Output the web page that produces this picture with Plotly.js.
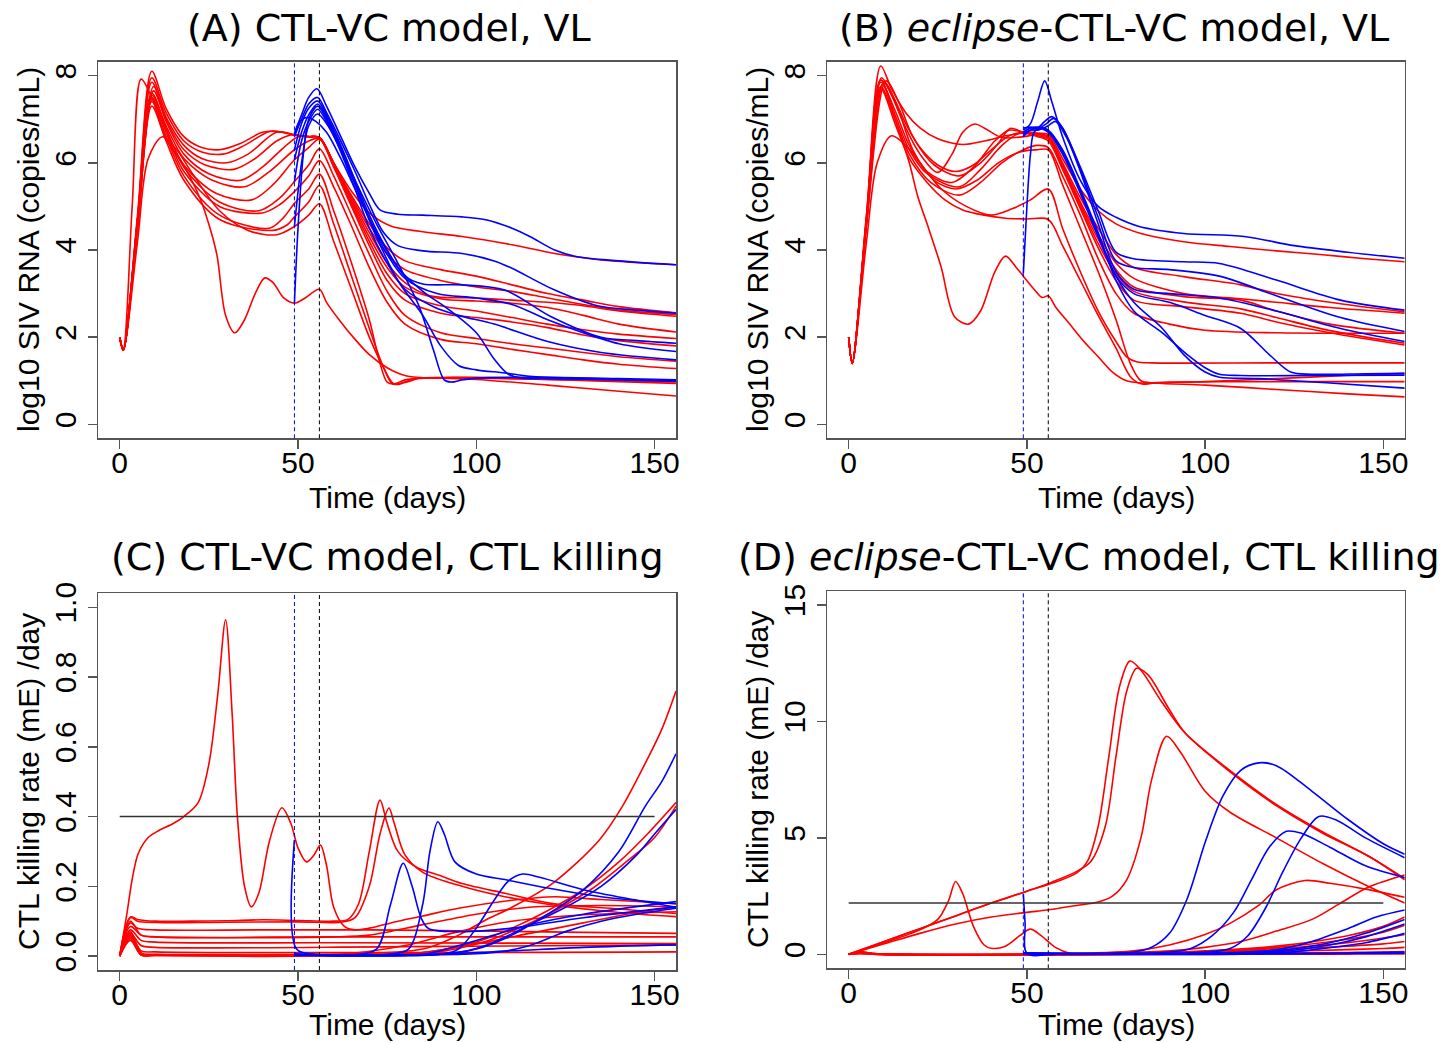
<!DOCTYPE html>
<html><head><meta charset="utf-8">
<script src="https://cdn.plot.ly/plotly-3.0.1.min.js"></script>
<style>html,body{margin:0;padding:0;background:#fff;}#chart{width:1448px;height:1043px;}</style>
</head><body><div id="chart"></div>
<script>
// ---------- Panel A: CTL-VC model, VL (log10 copies/mL) ----------
const vlA_red = [
 [[0,2],[1,1.7],[5,4.8],[9,8.1],[13,7.25],[18,6.6],[23,6.35],[28,6.3],[34,6.45],[40,6.7],[44,6.72],[49,6.64],[53,6.6],[56,6.58],[60,6.0],[65,5.35],[70,4.85],[76,4.55],[85,4.42],[96,4.31],[110,4.12],[122,3.92],[135,3.77],[156,3.66]],
 [[0,2],[1,1.7],[5,4.7],[9,7.95],[13,7.15],[18,6.5],[23,6.25],[29,6.2],[35,6.4],[42,6.72],[46,6.7],[49,6.64],[53,6.6],[56,6.58],[60,6.0],[65,5.25],[70,4.6],[75,4.05],[80,3.75],[90,3.55],[100,3.4],[110,3.2],[120,3.0],[130,2.85],[140,2.7],[156,2.56]],
 [[0,2],[1,1.7],[5,4.7],[9,7.85],[13,7.05],[18,6.4],[23,6.1],[30,6.0],[36,6.2],[44,6.7],[49,6.65],[53,6.6],[56,6.58],[60,6.0],[65,5.2],[70,4.5],[75,3.9],[80,3.55],[90,3.3],[100,3.15],[110,3.05],[120,2.9],[130,2.75],[140,2.62],[156,2.52]],
 [[0,2],[1,1.7],[5,4.6],[9.5,7.75],[13,7.0],[18,6.3],[24,5.95],[32,5.85],[38,6.1],[44,6.5],[48,6.64],[52,6.6],[56,6.58],[60,5.98],[65,5.15],[70,4.4],[75,3.7],[80,3.25],[87,2.95],[100,2.9],[110,2.85],[120,2.8],[130,2.72],[140,2.6],[156,2.48]],
 [[0,2],[1,1.7],[5,4.6],[9.5,7.65],[13,6.95],[18,6.2],[25,5.75],[34,5.6],[40,5.9],[46,6.35],[50,6.6],[53,6.6],[56,6.58],[60,5.95],[65,5.1],[70,4.3],[75,3.6],[80,3.15],[90,2.88],[100,2.83],[110,2.78],[120,2.68],[130,2.5],[140,2.3],[156,2.12]],
 [[0,2],[1,1.7],[5,4.7],[9,7.55],[13,6.85],[18,6.1],[26,5.6],[35,5.45],[42,5.8],[49,6.3],[53,6.5],[56,6.56],[60,5.95],[65,5.05],[70,4.2],[75,3.45],[80,3.0],[90,2.72],[100,2.6],[110,2.45],[120,2.3],[130,2.17],[140,2.07],[156,1.97]],
 [[0,2],[1,1.7],[5,4.6],[9,7.45],[13,6.75],[18,5.95],[27,5.3],[37,5.15],[43,5.5],[49,6.07],[53,6.35],[56,6.54],[60,5.9],[65,5.0],[70,4.1],[75,3.3],[80,2.85],[90,2.55],[100,2.45],[110,2.35],[120,2.22],[130,2.05],[140,1.92],[156,1.8]],
 [[0,2],[1,1.7],[5,4.7],[9,7.6],[13,6.8],[18,5.9],[28,5.1],[39,4.9],[45,5.2],[49,5.57],[53,5.95],[56,6.32],[60,5.7],[65,4.8],[70,3.9],[75,3.05],[80,2.5],[90,2.1],[100,1.97],[110,1.85],[120,1.75],[130,1.65],[140,1.55],[156,1.45]],
 [[0,2],[1,1.7],[5,4.6],[9,7.5],[13,6.7],[18,5.8],[28,5.0],[40,4.85],[45,5.05],[49,5.34],[53,5.7],[56,6.05],[60,5.45],[65,4.55],[70,3.6],[75,2.8],[80,2.3],[90,1.95],[100,1.85],[110,1.72],[120,1.6],[130,1.48],[140,1.38],[156,1.28]],
 [[0,2],[1,1.7],[5,4.5],[9,7.4],[13,6.6],[18,5.7],[28,4.8],[42,4.5],[46,4.75],[49,5.07],[53,5.4],[56,5.74],[60,4.9],[65,3.7],[70,2.4],[73,1.4],[75,0.97],[77,0.93],[80,1.02],[85,1.07],[100,1.08],[120,1.05],[140,1.02],[156,1.0]],
 [[0,2],[1,1.7],[5,4.5],[9,7.3],[13,6.5],[18,5.6],[28,4.7],[43,4.45],[47,4.58],[49,4.76],[53,5.1],[56,5.48],[60,4.6],[65,3.4],[70,2.2],[74,1.3],[76.5,0.93],[79,0.95],[83,1.05],[90,1.07],[100,1.07],[120,1.03],[140,0.98],[156,0.94]],
 [[0,2],[1,1.7],[5,4.2],[8,6.1],[12,6.6],[16,6.3],[20,5.8],[28,4.9],[36,4.45],[44,4.35],[49,4.54],[53,4.8],[56,5.06],[60,4.2],[65,3.1],[70,2.0],[74,1.3],[77,0.92],[80,0.96],[84,1.05],[90,1.06],[100,1.03],[120,0.9],[140,0.76],[156,0.65]],
 [[0,2],[1,1.75],[3.5,5.0],[6,7.92],[9,7.5],[13,6.55],[18,5.93],[22.6,5.17],[25.4,4.48],[27.3,3.87],[29.7,2.5],[32.3,2.1],[35,2.4],[38,3.0],[40.7,3.36],[43,3.25],[46,2.9],[49,2.78],[52,2.9],[56,3.1],[58,2.8],[62,2.35],[66,1.95],[70,1.6],[75,1.3],[80,1.12],[85,1.07],[100,1.06],[156,0.97]]
];
const vlA_blue = [
 [[49,6.68],[51,7.1],[53,7.5],[55.3,7.7],[58,7.3],[62,6.6],[66,5.9],[70,5.3],[73,4.92],[78,4.82],[85,4.8],[96,4.76],[103,4.69],[110,4.5],[115,4.31],[122,4.0],[128,3.85],[140,3.75],[156,3.66]],
 [[49,6.6],[51,7.0],[53,7.35],[55.5,7.5],[58,7.15],[62,6.5],[66,5.8],[70,5.05],[74,4.4],[78,4.1],[85,3.98],[96,3.92],[105,3.75],[110,3.58],[122,3.08],[134,2.72],[145,2.62],[156,2.55]],
 [[49,6.3],[51,6.9],[53,7.25],[55.5,7.42],[58,7.1],[62,6.4],[66,5.6],[70,4.8],[75,4.0],[80,3.4],[85,3.22],[96,3.2],[108,3.08],[121,2.47],[135,2.0],[145,1.92],[156,1.86]],
 [[49,6.07],[51,6.7],[53,7.1],[55.5,7.35],[58,7.05],[62,6.35],[66,5.55],[70,4.7],[75,3.9],[80,3.35],[89,3.0],[100,2.9],[110,2.75],[120,2.4],[128,2.16],[140,1.85],[156,1.67]],
 [[49,5.57],[51,6.5],[53,6.95],[55.5,7.23],[58,6.95],[62,6.25],[66,5.4],[70,4.5],[75,3.7],[80,3.1],[88,2.7],[95,2.5],[105,2.3],[120,1.9],[135,1.65],[156,1.48]],
 [[49,4.54],[51,6.0],[53,6.85],[55.5,7.12],[58,6.9],[62,6.3],[66,5.6],[72,4.6],[78,3.7],[84,2.7],[88,1.7],[91,1.02],[93,0.97],[96,1.02],[100,1.06],[120,1.08],[140,1.05],[156,1.02]],
 [[49,6.65],[50.5,6.95],[52.5,7.04],[55,6.95],[58,6.7],[62,6.1],[66,5.4],[72,4.4],[78,3.6],[85,3.05],[92,2.65],[100,2.1],[105,1.5],[109,1.15],[113,1.06],[120,1.05],[140,1.02],[156,0.99]],
 [[49,2.78],[50,4.5],[51.5,6.2],[53,7.0],[55.5,7.3],[58,7.0],[62,6.3],[66,5.5],[72,4.3],[78,3.3],[85,2.5],[90,1.8],[95,1.35],[100,1.25],[108,1.18],[115,1.1],[130,1.05],[156,1.0]]
];

// ---------- Panel B: eclipse-CTL-VC model, VL ----------
const vlB_red = [
 [[0,2],[1,1.4],[5,4.8],[9,8.22],[12,7.7],[16,7.15],[20,6.8],[25,6.55],[32,6.42],[38,6.5],[44,6.62],[49,6.68],[53,6.68],[56,6.65],[60,6.1],[65,5.4],[70,4.9],[75,4.6],[82,4.38],[94,4.19],[107,4.08],[120,3.98],[133,3.89],[145,3.8],[156,3.73]],
 [[0,2],[1,1.4],[5,4.7],[9.2,7.95],[12,7.55],[16,6.8],[20,6.2],[25,5.78],[29,6.2],[32,6.7],[35.4,6.89],[38,6.8],[43,6.58],[49,6.6],[53,6.65],[56,6.6],[60,6.0],[65,5.2],[70,4.5],[75,3.9],[80,3.6],[94,3.39],[110,3.2],[120,3.0],[135,2.8],[156,2.58]],
 [[0,2],[1,1.4],[5,4.7],[9,7.9],[12,7.6],[16,6.9],[20,6.35],[25,5.95],[30,5.8],[35,5.95],[40,6.3],[45,6.62],[49,6.7],[53,6.68],[56,6.6],[60,5.95],[65,5.1],[70,4.35],[75,3.7],[80,3.35],[94,3.0],[110,2.88],[120,2.8],[135,2.68],[156,2.55]],
 [[0,2],[1,1.4],[5,4.6],[10.5,7.88],[14,7.4],[18,6.6],[24,5.95],[31,5.7],[37,6.0],[42,6.45],[45.3,6.79],[49,6.7],[53,6.65],[56,6.58],[60,5.95],[65,5.05],[70,4.25],[75,3.55],[80,3.15],[94,2.93],[110,2.85],[120,2.6],[135,2.3],[156,2.09]],
 [[0,2],[1,1.4],[5,4.7],[9,7.85],[13,7.2],[17,6.4],[22,5.8],[29,5.55],[35,5.9],[41,6.5],[45,6.75],[49,6.7],[53,6.62],[56,6.55],[60,5.9],[65,5.0],[70,4.15],[75,3.45],[80,3.05],[94,2.81],[110,2.65],[120,2.45],[135,2.15],[156,1.86]],
 [[0,2],[1,1.4],[5,4.6],[9.5,7.8],[13,7.1],[17,6.3],[22,5.75],[31,5.45],[37,5.85],[43,6.4],[48,6.68],[53,6.6],[56,6.5],[60,5.85],[65,4.95],[70,4.05],[75,3.3],[80,2.85],[94,2.7],[110,2.55],[120,2.35],[135,2.1],[156,1.82]],
 [[0,2],[1,1.4],[5,4.6],[9,7.75],[13,7.0],[17,6.2],[23,5.55],[31,5.26],[37,5.55],[43,6.0],[49,6.3],[53,6.4],[56,6.35],[60,5.7],[65,4.8],[70,3.8],[75,3.0],[80,2.55],[90,2.3],[100,2.16],[120,2.1],[140,2.09],[156,2.09]],
 [[0,2],[1,1.4],[5,4.2],[8,6.0],[12,6.62],[16,6.4],[20,6.0],[26,5.4],[33,5.0],[40,4.8],[46,4.95],[51,5.15],[56,5.4],[60,4.5],[65,3.5],[70,2.6],[75,1.9],[78,1.55],[81,1.43],[85,1.41],[120,1.41],[156,1.41]],
 [[0,2],[1,1.4],[5,4.7],[9,7.7],[13,6.9],[17,6.1],[22,5.55],[27,5.15],[32,4.92],[38,4.8],[44,4.73],[50,4.71],[56,4.7],[60,4.1],[65,3.3],[70,2.5],[75,1.75],[79,1.1],[82,0.93],[86,0.95],[100,0.98],[120,1.05],[140,1.12],[156,1.17]],
 [[0,2],[1,1.4],[5,4.6],[10,7.85],[14,7.2],[18,6.3],[24,5.6],[30,5.4],[36,5.6],[42,6.0],[48,6.25],[53,6.3],[56,6.3],[60,5.5],[65,4.5],[70,3.5],[75,2.4],[79,1.4],[82,1.0],[86,0.95],[100,0.9],[120,0.8],[140,0.7],[156,0.63]],
 [[0,2],[1,1.4],[5,4.8],[9,7.9],[13,7.0],[17,6.0],[19.4,5.22],[22,4.6],[25.9,3.62],[29.7,2.47],[33.6,2.3],[37,2.6],[41,3.5],[44,3.86],[47,3.6],[49,3.4],[52,3.1],[54.3,2.91],[56,2.95],[58,2.7],[62,2.3],[66,1.9],[70,1.55],[74,1.2],[78,1.0],[82,0.95],[90,0.97],[110,0.98],[156,0.98]]
];
const vlB_blue = [
 [[49,6.75],[51,6.9],[53,7.4],[55,7.88],[57,7.4],[60,6.6],[65,5.6],[70,5.0],[75,4.75],[81.5,4.54],[94,4.38],[111,4.31],[125,4.1],[140,3.95],[156,3.81]],
 [[49,6.8],[51,6.82],[53,6.8],[55,6.95],[57,7.06],[60,6.8],[65,5.9],[70,4.9],[75,3.95],[80,3.8],[94,3.73],[104,3.69],[120,3.31],[138,2.85],[156,2.62]],
 [[49,6.7],[51,6.8],[53,6.78],[55.5,6.9],[57.5,7.02],[60,6.8],[65,5.85],[70,4.75],[75,3.75],[80,3.6],[90,3.55],[104,3.4],[120,2.95],[138,2.45],[156,2.13]],
 [[49,6.65],[51,6.75],[53,6.75],[56,6.85],[58,6.95],[61,6.6],[65,5.8],[70,4.6],[75,3.5],[80,3.1],[90,3.0],[104,2.9],[120,2.6],[138,2.2],[156,1.9]],
 [[49,3.46],[50,5.0],[51,6.2],[52,6.7],[54,6.8],[56,6.75],[60,6.3],[65,5.4],[70,4.4],[75,3.3],[80,2.6],[88,2.1],[95,1.6],[100,1.3],[104,1.15],[110,1.12],[130,1.12],[156,1.13]],
 [[49,6.6],[51,6.75],[53,6.8],[56,6.7],[60,6.2],[65,5.3],[70,4.3],[75,3.4],[80,3.0],[90,2.8],[100,2.5],[110,2.2],[118,1.6],[124,1.2],[130,1.15],[145,1.16],[156,1.17]],
 [[49,6.7],[51,6.8],[53,6.82],[56,6.72],[60,6.25],[65,5.35],[70,4.35],[75,3.4],[80,2.8],[88,2.2],[94,1.6],[100,1.2],[104,1.08],[115,1.05],[135,0.95],[156,0.83]]
];

// ---------- Panel C: CTL-VC model, CTL killing rate (/day) ----------
const ctlC_red = [
 [[0,0],[2,0.12],[3.5,0.22],[5.2,0.294],[8,0.34],[11,0.36],[15,0.38],[18,0.40],[22,0.44],[25,0.55],[27.5,0.75],[29.7,0.964],[31.5,0.7],[33,0.4],[35,0.2],[36.9,0.141],[39,0.18],[42,0.33],[45.5,0.425],[48,0.38],[50,0.31],[52.4,0.27],[54.5,0.29],[56.3,0.318],[58,0.26],[60,0.14],[63,0.085],[66,0.075],[70,0.08],[76,0.095],[85,0.115],[95,0.137],[110,0.16],[122,0.17],[135,0.162],[156,0.15]],
 [[0,0],[3,0.112],[5,0.105],[10,0.1],[20,0.1],[30,0.101],[40,0.104],[50,0.102],[60,0.1],[64,0.105],[67,0.15],[70,0.3],[73,0.447],[75,0.38],[78,0.3],[83,0.256],[90,0.23],[96,0.208],[108,0.18],[121,0.151],[140,0.135],[156,0.122]],
 [[0,0],[3,0.11],[5,0.1],[10,0.096],[30,0.097],[50,0.098],[62,0.097],[66,0.11],[70,0.2],[73,0.35],[75.5,0.424],[77,0.38],[80,0.29],[85,0.24],[96,0.2],[108,0.17],[121,0.147],[140,0.125],[156,0.113]],
 [[0,0],[3,0.095],[5,0.08],[10,0.075],[40,0.075],[70,0.075],[100,0.072],[130,0.068],[156,0.065]],
 [[0,0],[3,0.085],[6,0.06],[10,0.055],[60,0.055],[100,0.055],[156,0.055]],
 [[0,0],[3,0.075],[6,0.045],[10,0.04],[60,0.038],[156,0.036]],
 [[0,0],[3,0.065],[6,0.03],[10,0.025],[80,0.027],[156,0.032]],
 [[0,0],[3,0.06],[6,0.015],[10,0.012],[156,0.012]],
 [[0,0],[3,0.07],[6,0.01],[10,0.005],[60,0.005],[85,0.02],[95,0.06],[102,0.1],[110,0.14],[121.6,0.21],[134.5,0.333],[141,0.43],[147.4,0.553],[152,0.65],[156,0.76]],
 [[0,0],[3,0.06],[6,0.005],[10,0.004],[60,0.004],[85,0.01],[100,0.04],[110,0.08],[120,0.13],[130,0.19],[140,0.27],[148,0.35],[156,0.44]],
 [[0,0],[3,0.055],[6,0.004],[10,0.003],[60,0.003],[88,0.01],[102,0.04],[112,0.08],[122,0.13],[132,0.19],[142,0.27],[150,0.34],[156,0.43]],
 [[0,0],[3,0.05],[6,0.003],[10,0.002],[70,0.002],[85,0.01],[100,0.035],[115,0.065],[130,0.095],[145,0.125],[156,0.141]],
 [[0,0],[3,0.045],[6,0.003],[10,0.002],[60,0.003],[80,0.03],[95,0.07],[110,0.1],[125,0.115],[140,0.122],[156,0.127]],
 [[0,0],[3,0.1],[6,0.06],[10,0.055],[60,0.055],[70,0.06],[85,0.09],[100,0.12],[115,0.14],[135,0.145],[156,0.141]]
];
const ctlC_blue = [
 [[49,0.333],[49.6,0.02],[55,0.005],[65,0.003],[72,0.02],[76,0.15],[79.5,0.266],[82,0.2],[84.5,0.11],[86.6,0.079],[95,0.07],[110,0.08],[130,0.11],[156,0.141]],
 [[49,0.01],[50,0.005],[75,0.005],[81,0.02],[85,0.15],[87,0.3],[89.2,0.385],[91,0.35],[94,0.27],[100,0.235],[108.6,0.218],[120,0.195],[135,0.17],[156,0.15]],
 [[49,0.005],[90,0.005],[95,0.02],[100,0.08],[105,0.16],[109,0.215],[113,0.235],[118,0.225],[130,0.19],[145,0.16],[156,0.14]],
 [[49,0.005],[90,0.006],[100,0.02],[110,0.06],[120,0.12],[130,0.19],[140,0.3],[147.4,0.43],[152,0.5],[156,0.58]],
 [[49,0.005],[95,0.01],[105,0.04],[115,0.09],[125,0.14],[135,0.2],[145,0.29],[150,0.35],[156,0.42]],
 [[49,0.003],[105,0.01],[115,0.03],[125,0.07],[135,0.1],[145,0.12],[156,0.137]],
 [[49,0.002],[90,0.006],[110,0.015],[130,0.025],[156,0.032]],
 [[49,0.004],[85,0.005],[95,0.03],[105,0.06],[115,0.09],[130,0.12],[156,0.156]]
];

// ---------- Panel D: eclipse-CTL-VC model, CTL killing rate (/day) ----------
const ctlD_red = [
 [[0,0],[10,0.55],[20,1.1],[30,1.65],[40,2.2],[49.8,2.7],[57,3.05],[64,3.5],[67,4.0],[70,5.5],[73,8.5],[76,11.5],[78.9,12.59],[82,12.2],[88,10.8],[94.4,9.5],[107.3,7.85],[120.3,6.4],[133,5.25],[146,4.2],[156,3.25]],
 [[0,0],[10,0.55],[20,1.1],[30,1.65],[40,2.2],[49.8,2.7],[57,3.1],[64,3.56],[68,4.0],[72,5.5],[75,8.5],[78,11.3],[80.8,12.28],[84,12.0],[90,10.5],[94.4,9.5],[107.3,7.8],[120.3,6.35],[133,5.2],[146,4.2],[156,3.2]],
 [[0,0],[10,0.45],[20,0.9],[30,1.3],[40,1.6],[50,1.8],[55.6,1.9],[64,2.1],[70,2.25],[74,2.5],[78,3.2],[82,5.0],[85,7.5],[89.2,9.36],[93,8.7],[100,7.0],[107,6.1],[120,5.0],[133,3.9],[146,2.9],[156,2.2]],
 [[0,0],[10,0.5],[20,1.05],[25,1.5],[28,2.3],[30,3.13],[32,2.6],[35,1.2],[38,0.4],[40,0.26],[44,0.35],[48,0.8],[51,1.08],[54,0.8],[58,0.3],[62,0.05],[70,0.02],[100,0.03],[156,0.05]],
 [[0,0],[3,0.1],[8,0.02],[60,0.02],[80,0.15],[90,0.4],[100,0.85],[107,1.33],[115,2.1],[120,2.77],[128,3.17],[135,3.05],[145,2.8],[156,2.45]],
 [[0,0],[3,0.08],[8,0.02],[60,0.02],[90,0.15],[100,0.3],[110,0.55],[120,1.0],[130,1.5],[138,2.2],[146,2.9],[156,3.41]],
 [[0,0],[3,0.12],[8,0.02],[80,0.04],[100,0.15],[120,0.35],[140,0.8],[150,1.2],[156,1.6]],
 [[0,0],[3,0.1],[8,0.02],[80,0.03],[100,0.12],[120,0.3],[140,0.65],[150,0.95],[156,1.25]],
 [[0,0],[3,0.08],[8,0.01],[80,0.02],[100,0.1],[120,0.25],[140,0.5],[150,0.7],[156,0.85]],
 [[0,0],[3,0.06],[8,0.01],[80,0.02],[100,0.08],[120,0.2],[140,0.35],[150,0.45],[156,0.55]],
 [[0,0],[3,0.05],[8,0.01],[80,0.01],[100,0.05],[120,0.12],[140,0.2],[150,0.25],[156,0.3]],
 [[0,0],[3,0.04],[8,0.0],[80,0.0],[100,0.02],[120,0.05],[140,0.08],[150,0.1],[156,0.12]],
 [[0,0],[3,0.03],[8,0.0],[80,0.0],[100,0.0],[120,0.01],[140,0.01],[150,0.02],[156,0.02]]
];
const ctlD_blue = [
 [[49,2.6],[49.5,1.3],[50,0.05],[60,0.02],[100,0.02],[156,0.05]],
 [[49,0.05],[80,0.1],[85,0.3],[90,0.9],[95,2.4],[100,4.8],[105,6.8],[110,7.9],[115,8.22],[120,8.1],[130,7.0],[140,5.8],[150,4.75],[156,4.3]],
 [[49,0.05],[90,0.1],[96,0.25],[102,0.8],[108,1.8],[113,3.2],[118,4.6],[122.8,5.28],[127,5.2],[135,4.6],[145,3.8],[156,3.3]],
 [[49,0.05],[100,0.1],[107,0.25],[112,0.8],[117,2.0],[122,3.6],[127,5.0],[131.9,5.92],[137,5.75],[145,5.0],[156,4.15]],
 [[49,0.03],[100,0.05],[120,0.2],[130,0.55],[140,1.1],[148,1.6],[156,1.9]],
 [[49,0.03],[110,0.05],[120,0.15],[135,0.5],[145,0.9],[156,1.5]],
 [[49,0.02],[110,0.04],[120,0.1],[135,0.4],[145,0.75],[156,1.3]],
 [[49,0.02],[120,0.05],[130,0.2],[145,0.5],[156,0.9]],
 [[49,0.01],[130,0.03],[156,0.1]]
];

// reference lines
const infusionDay = 49, treatDay = 56;
const thresholdC = 0.4, thresholdD = 2.2, thresholdEnd = 150;

// ---------- build ----------
const RED = '#ff0000', BLUE = '#0000ff', AX = '#555555';
function mk(curves, color, xa, ya) {
  return curves.map(c => ({
    x: c.map(p => p[0]), y: c.map(p => p[1]), type: 'scatter', mode: 'lines',
    line: {color: color, width: 1.6, shape: 'spline', smoothing: 0.9},
    xaxis: xa, yaxis: ya, hoverinfo: 'skip', showlegend: false, cliponaxis: true
  }));
}
const data = [].concat(
  mk(vlA_red, RED, 'x', 'y'), mk(vlA_blue, BLUE, 'x', 'y'),
  mk(vlB_red, RED, 'x2', 'y2'), mk(vlB_blue, BLUE, 'x2', 'y2'),
  mk(ctlC_red, RED, 'x3', 'y3'), mk(ctlC_blue, BLUE, 'x3', 'y3'),
  mk(ctlD_red, RED, 'x4', 'y4'), mk(ctlD_blue, BLUE, 'x4', 'y4')
);
const W = 1448, H = 1043;
const TF = {family: 'Liberation Sans, Arial, sans-serif', size: 30, color: '#000'};
function xax(l, r, anchor) {
  return {domain: [l / W, r / W], anchor: anchor, range: [-6, 156], tickvals: [0, 50, 100, 150],
    ticks: 'outside', ticklen: 9, tickwidth: 1.5, tickcolor: AX, showline: true, linecolor: AX,
    linewidth: 1.5, mirror: true, showgrid: false, zeroline: false, tickfont: TF, fixedrange: true,
    ticklabelstandoff: -12};
}
function yax(top, bot, anchor, range, vals, text) {
  return {domain: [1 - bot / H, 1 - top / H], anchor: anchor, range: range, tickvals: vals, ticktext: text,
    ticks: 'outside', ticklen: 9, tickwidth: 1.5, tickcolor: AX, showline: true, linecolor: AX,
    linewidth: 1.5, mirror: true, showgrid: false, zeroline: false, tickfont: TF, tickangle: -90, fixedrange: true};
}
const shapes = [];
[['x','y'],['x2','y2'],['x3','y3'],['x4','y4']].forEach(([xa, ya]) => {
  shapes.push({type:'line', xref:xa, yref:ya + ' domain', x0:infusionDay, x1:infusionDay, y0:0, y1:1, line:{color:BLUE, width:1, dash:'4px,3px'}});
  shapes.push({type:'line', xref:xa, yref:ya + ' domain', x0:treatDay, x1:treatDay, y0:0, y1:1, line:{color:'#000', width:1, dash:'4px,3px'}});
});
shapes.push({type:'line', xref:'x3', yref:'y3', x0:0, x1:thresholdEnd, y0:thresholdC, y1:thresholdC, line:{color:'#333', width:1.5}});
shapes.push({type:'line', xref:'x4', yref:'y4', x0:0, x1:thresholdEnd, y0:thresholdD, y1:thresholdD, line:{color:'#333', width:1.5}});

const TTL = {family: 'DejaVu Sans, Verdana, sans-serif', size: 38, color: '#000'};
const LBL = {family: 'Liberation Sans, Arial, sans-serif', size: 30, color: '#000'};
function ann(text, px, py, font, opts) {
  return Object.assign({text: text, x: px / W, y: 1 - py / H, xref: 'paper', yref: 'paper', showarrow: false,
    xanchor: 'center', yanchor: 'middle', font: font}, opts || {});
}
const annotations = [
  ann('(A) CTL-VC model, VL', 389, 28, TTL),
  ann('(B) <i>eclipse</i>-CTL-VC model, VL', 1114, 28, TTL),
  ann('(C) CTL-VC model, CTL killing', 387.5, 557, TTL),
  ann('(D) <i>eclipse</i>-CTL-VC model, CTL killing', 736, 557, TTL, {xanchor: 'left'}),
  ann('Time (days)', 387, 497, LBL), ann('Time (days)', 1116, 497, LBL),
  ann('Time (days)', 387, 1024, LBL), ann('Time (days)', 1116, 1024, LBL),
  ann('log10 SIV RNA (copies/mL)', 28, 250, LBL, {textangle: -90}),
  ann('log10 SIV RNA (copies/mL)', 757, 250, LBL, {textangle: -90}),
  ann('CTL killing rate (mE) /day', 28, 782, LBL, {textangle: -90}),
  ann('CTL killing rate (mE) /day', 757, 780, LBL, {textangle: -90})
];
const layout = {
  width: W, height: H, autosize: false, margin: {l: 0, r: 0, t: 0, b: 0},
  paper_bgcolor: '#fff', plot_bgcolor: '#fff', showlegend: false,
  xaxis: xax(98.3, 676, 'y'), yaxis: yax(61.7, 438.3, 'x', [-0.32, 8.32], [0,2,4,6,8], ['0','2','4','6','8']),
  xaxis2: xax(827.3, 1404.7, 'y2'), yaxis2: yax(61.7, 438.3, 'x2', [-0.32, 8.32], [0,2,4,6,8], ['0','2','4','6','8']),
  xaxis3: xax(98.3, 676, 'y3'), yaxis3: yax(593.3, 970, 'x3', [-0.04, 1.04], [0,0.2,0.4,0.6,0.8,1.0], ['0.0','0.2','0.4','0.6','0.8','1.0']),
  xaxis4: xax(827.3, 1404.7, 'y4'), yaxis4: yax(591, 968.3, 'x4', [-0.6, 15.6], [0,5,10,15], ['0','5','10','15']),
  shapes: shapes, annotations: annotations
};
Plotly.newPlot('chart', data, layout, {staticPlot: true, displayModeBar: false});
</script>
</body></html>
